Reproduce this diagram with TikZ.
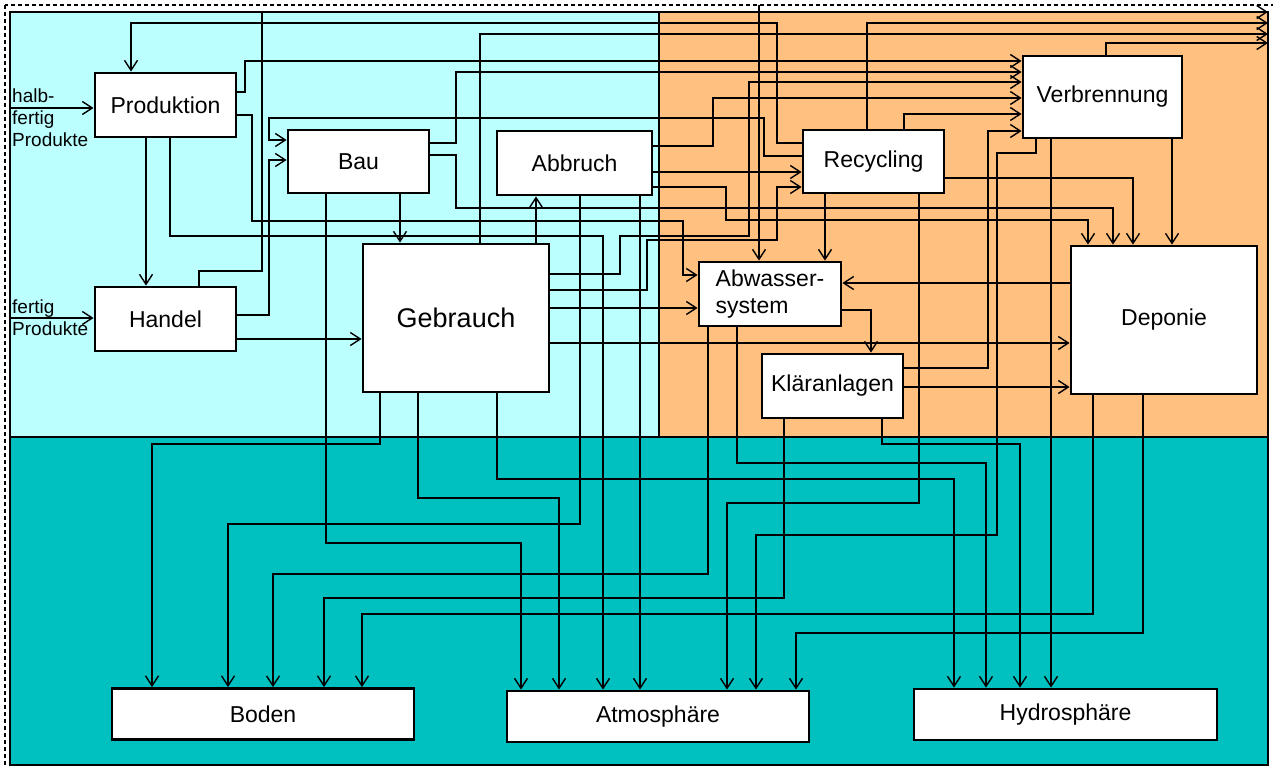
\documentclass[tikz,border=0pt]{standalone}
\usepackage{fontspec}
\setmainfont{Liberation Sans}
\usetikzlibrary{arrows.meta}
\definecolor{techno}{HTML}{BBFFFF}
\definecolor{entsorg}{HTML}{FFC080}
\definecolor{umwelt}{HTML}{00C0C0}

\begin{document}
\begin{tikzpicture}[x=1pt,y=-1pt,>={Straight Barb[length=10pt,width=13pt]},
   flow/.style={->,line width=1.4pt},
   proc/.style={draw,fill=white,line width=2.8pt,inner sep=0pt,font=\fontsize{23}{27}\selectfont},
   sphere/.style={proc,minimum width=302pt,minimum height=51pt},
   side/.style={align=left,anchor=west,inner sep=0pt,font=\fontsize{19}{22}\selectfont}]
   \useasboundingbox (0,0) rectangle (1273,767);
   \fill[white] (0,0) rectangle (1273,767);
   \draw[line width=1.6pt,dash pattern=on 4pt off 3pt] (5,5) rectangle (1290,790);
   \filldraw[fill=techno,line width=1.5pt] (10,12) rectangle (659,437);
   \filldraw[fill=entsorg,line width=1.5pt] (659,12) rectangle (1268,437);
   \filldraw[fill=umwelt,line width=1.5pt] (10,437) rectangle (1268,765);

   \node[proc,minimum width=141pt,minimum height=64pt] (prod)   at (165.5,105) {Produktion};
   \node[proc,minimum width=141pt,minimum height=64pt] (handel) at (165.5,319) {Handel};
   \node[proc,minimum width=141pt,minimum height=63pt] (bau)    at (358.5,161.5) {Bau};
   \node[proc,minimum width=155pt,minimum height=64pt] (abbr)   at (574.5,163) {Abbruch};
   \node[proc,minimum width=186pt,minimum height=148pt,font=\fontsize{27}{30}\selectfont] (gebr) at (456,318) {Gebrauch};
   \node[proc,minimum width=141pt,minimum height=63pt] (recy)   at (873.5,161.5) {Recycling};
   \node[proc,minimum width=159pt,minimum height=82pt] (verb)   at (1102.5,97) {Verbrennung};
   \node[proc,minimum width=142pt,minimum height=64pt,align=left] (abw) at (770,294) {Abwasser-\\system};
   \node[proc,minimum width=141pt,minimum height=64pt] (klaer)  at (832.5,386) {Kläranlagen};
   \node[proc,minimum width=186pt,minimum height=148pt] (depo)  at (1164,320) {Deponie};
   \node[sphere] (boden) at (263,714) {Boden};
   \node[sphere] (atmo)  at (658,716.5) {Atmosphäre};
   \node[sphere,minimum width=303pt] (hydro) at (1065.5,714.5) {Hydrosphäre};

   \node[side] (lblHalb)   at (12,118) {halb-\\fertig\\Produkte};
   \node[side] (lblFertig) at (12,318) {fertig\\Produkte};
   \coordinate (inHalb)   at (10,108);
   \coordinate (inFertig) at (10,318);
   \coordinate (inAbw)    at (759,5);
   \coordinate (exHandel) at (1268,12);
   \coordinate (exRecy)   at (1268,23);
   \coordinate (exGebr)   at (1268,34);
   \coordinate (exVerb)   at (1268,43);

   \draw[flow] (inHalb) -- (inHalb -| prod.west);
   \draw[flow] (inFertig) -- (inFertig -| handel.west);
   \draw[flow] (inAbw) -- (abw.north -| inAbw);

   \draw[flow] (prod.east |- 0,92) -| (245,61) -- (verb.west |- 0,61);
   \draw[flow] (prod.east |- 0,115) -| (252,221) -| (683,275) -- (abw.west |- 0,275);
   \draw[flow] (prod.south -| 146,0) -- (handel.north -| 146,0);
   \draw[flow] (prod.south -| 170,0) |- (603,236) -- (atmo.north -| 603,0);

   \draw[flow] (handel.north -| 199,0) |- (262,271) |- (exHandel);
   \draw[flow] (handel.east |- 0,315) -| (269,160) -- (bau.west |- 0,160);
   \draw[flow] (handel.east |- 0,339) -- (gebr.west |- 0,339);

   \draw[flow] (bau.east |- 0,143) -| (456,72) -- (verb.west |- 0,72);
   \draw[flow] (bau.east |- 0,155) -| (456,208) -| (depo.north -| 1113,0);
   \draw[flow] (bau.south -| 400,0) -- (gebr.north -| 400,0);
   \draw[flow] (bau.south -| 326,0) |- (521,543) -- (atmo.north -| 521,0);

   \draw[flow] (abbr.east |- 0,146) -| (713,98) -- (verb.west |- 0,98);
   \draw[flow] (abbr.east |- 0,172) -- (recy.west |- 0,172);
   \draw[flow] (abbr.east |- 0,187) -| (726,220) -| (depo.north -| 1088,0);
   \draw[flow] (abbr.south -| 580,0) |- (228,524) -- (boden.north -| 228,0);
   \draw[flow] (abbr.south -| 640,0) -- (atmo.north -| 640,0);

   \draw[flow] (gebr.north -| 536,0) -- (abbr.south -| 536,0);
   \draw[flow] (gebr.north -| 480,0) |- (exGebr);
   \draw[flow] (gebr.east |- 0,274) -| (620,236) -| (749,82) -- (verb.west |- 0,82);
   \draw[flow] (gebr.east |- 0,290) -| (647,240) -| (777,187) -- (recy.west |- 0,187);
   \draw[flow] (gebr.east |- 0,308) -- (abw.west |- 0,308);
   \draw[flow] (gebr.east |- 0,343) -- (depo.west |- 0,343);
   \draw[flow] (gebr.south -| 380,0) |- (152,444) -- (boden.north -| 152,0);
   \draw[flow] (gebr.south -| 418,0) |- (559,498) -- (atmo.north -| 559,0);
   \draw[flow] (gebr.south -| 497,0) |- (954,479) -- (hydro.north -| 954,0);

   \draw[flow] (recy.west |- 0,143) -| (777,23) -| (prod.north -| 131,0);
   \draw[flow] (recy.west |- 0,156) -| (764,118) -| (269,140) -- (bau.west |- 0,140);
   \draw[flow] (recy.north -| 867,0) |- (exRecy);
   \draw[flow] (recy.north -| 904,0) |- (verb.west |- 0,114);
   \draw[flow] (recy.east |- 0,178) -| (depo.north -| 1133,0);
   \draw[flow] (recy.south -| 825,0) -- (abw.north -| 825,0);
   \draw[flow] (recy.south -| 919,0) |- (727,503) -- (atmo.north -| 727,0);

   \draw[flow] (verb.north -| 1106,0) |- (exVerb);
   \draw[flow] (verb.south -| 1172,0) -- (depo.north -| 1172,0);
   \draw[flow] (verb.south -| 1036,0) |- (997,153) |- (756,535) -- (atmo.north -| 756,0);
   \draw[flow] (verb.south -| 1051,0) -- (hydro.north -| 1051,0);

   \draw[flow] (abw.east |- 0,310) -| (klaer.north -| 871,0);
   \draw[flow] (abw.south -| 708,0) |- (273,574) -- (boden.north -| 273,0);
   \draw[flow] (abw.south -| 737,0) |- (986,463) -- (hydro.north -| 986,0);

   \draw[flow] (klaer.east |- 0,368) -| (988,131) -- (verb.west |- 0,131);
   \draw[flow] (klaer.east |- 0,387) -- (depo.west |- 0,387);
   \draw[flow] (klaer.south -| 784,0) |- (324,598) -- (boden.north -| 324,0);
   \draw[flow] (klaer.south -| 882,0) |- (1020,444) -- (hydro.north -| 1020,0);

   \draw[flow] (depo.west |- 0,283) -- (abw.east |- 0,283);
   \draw[flow] (depo.south -| 1093,0) |- (362,614) -- (boden.north -| 362,0);
   \draw[flow] (depo.south -| 1143,0) |- (796,633) -- (atmo.north -| 796,0);
\end{tikzpicture}
\end{document}
